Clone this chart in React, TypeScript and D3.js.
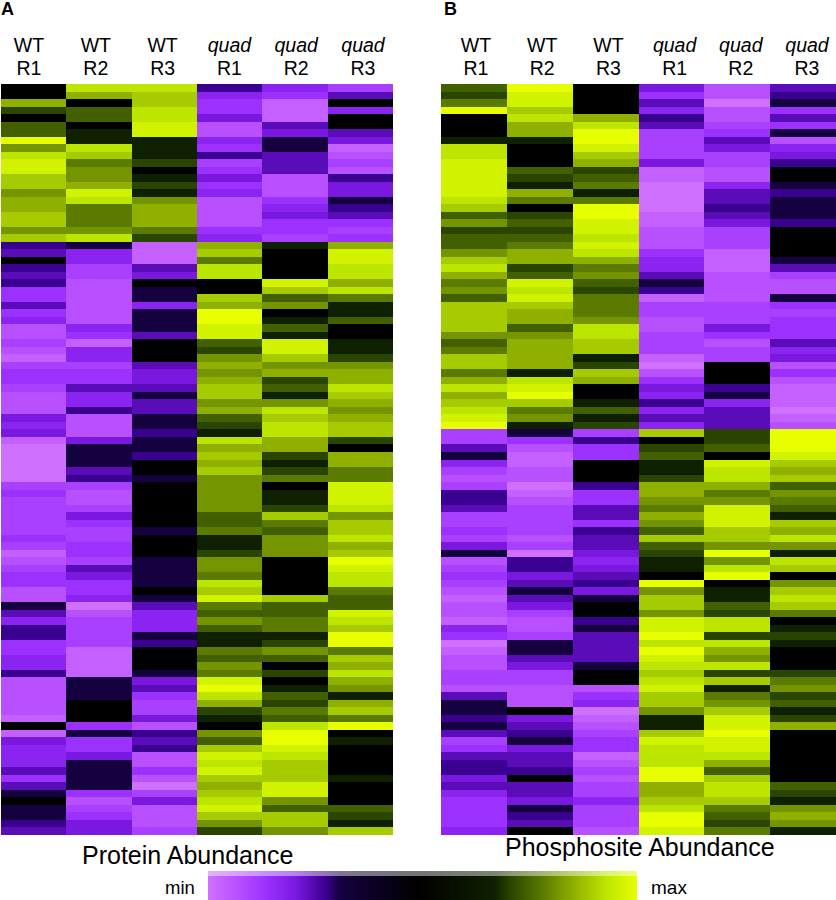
import React from "react";
import * as d3 from "d3";

const proteinWT1 = [
  0,0,6,2,0,3,3,10,5,8, 9,9,7,7,5,6,6,7,7,5, 7,-2,-3,0,-2,-3,-2,-6,-6,-3, -6,-5,-8,-8,-7,-8,-9,-7,-6,-6,
  -7,-8,-8,-8,-4,-5,-4,-9,-10,-10, -10,-10,-10,-7,-6,-7,-7,-7,-7,-7, -6,-7,-9,-8,-7,-6,-6,-8,-8,-1,
  -3,-5,-2,-2,-6,-6,-5,-5,-2,-8, -8,-8,-8,-8,-9,0,-9,-4,-5,-5, -5,-3,-6,-3,-1,0,-1,-1,-2,-3,
];
const proteinWT2 = [
  8,6,0,3,3,0,1,1,8,7, 4,5,5,6,9,8,4,4,4,5, 8,-1,-5,-5,-7,-7,-8,-8,-8,-8, -8,-8,-5,-6,-9,-5,-5,-7,-6,-6,
  -3,-5,-5,-2,-8,-8,-8,-4,-1,-1, -1,-3,-2,-7,-8,-8,-7,-4,-6,-7, -7,-6,-6,-7,-3,-4,-6,-6,-5,-10,
  -8,-7,-7,-7,-7,-9,-9,-9,-9,-1, -1,-1,0,0,0,-6,-1,-6,-6,-4, -1,-1,-1,-1,-6,-8,-7,-6,-4,-4,
];
const proteinWT3 = [
  8,7,7,8,8,9,9,1,1,1, 2,0,1,2,1,5,6,6,6,4, 2,-9,-9,-9,-3,-4,0,-1,-1,-5, -1,-1,-1,-3,0,0,0,-3,-4,-4,
  -3,-1,-3,-3,-1,-1,-2,-1,-1,-2, 0,0,-1,0,0,0,0,0,0,-1, 0,0,0,-1,-1,-1,-1,0,-1,-3,
  -5,-5,-5,-1,-2,0,0,0,-1,-4, -3,-6,-7,-7,-4,-8,-2,-3,-2,-8, -8,-6,-8,-10,-7,-4,-8,-8,-8,-7,
];
const proteinQuad1 = [
  -2,-5,-6,-6,-4,-8,-8,-5,-6,-2, -7,-6,-4,-6,-5,-8,-8,-8,-8,-6, -5,6,7,4,8,8,0,0,7,6, 10,10,9,9,3,2,5,6,5,6,
  7,7,5,6,3,2,1,8,6,7, 6,7,5,5,5,5,5,3,3,4, 1,1,2,5,5,4,8,7,9,4,
  3,5,3,1,1,4,3,5,4,9, 10,8,6,2,1,0,5,3,7,9, 8,9,7,6,7,8,9,7,5,2,
];
const proteinQuad2 = [
  -5,-6,-9,-9,-9,-3,-4,-1,-1,-3, -3,-3,-8,-8,-8,-6,-5,-4,-6,-6, -7,1,0,0,0,0,9,7,3,5, 0,1,3,1,9,9,7,5,6,2,
  3,1,5,8,7,8,8,6,6,2, 1,2,4,0,1,1,2,7,4,3, 5,5,5,0,0,0,0,0,7,3,
  3,4,4,1,2,5,3,0,2,0, 1,3,2,4,3,8,10,10,9,8, 7,7,7,9,9,5,3,7,7,5,
];
const proteinQuad3 = [
  -7,-3,0,-5,0,0,-3,-4,-9,-8, -7,-8,-2,-4,-4,-1,-2,-3,-6,-7, -6,6,9,9,8,8,6,8,4,1, 1,3,0,0,1,1,2,5,6,6,
  8,7,6,5,6,7,7,2,0,6, 6,4,4,9,9,9,8,5,7,7, 8,6,7,10,9,8,8,4,3,3,
  9,8,7,10,10,4,7,6,8,6, 5,1,6,7,4,10,0,1,0,0, 0,0,1,0,0,0,3,2,1,7,
];

const phosphoWT1 = [
  3,2,4,10,0,0,0,1,8,8, 9,9,9,9,9,8,7,3,5,2, 3,3,5,7,8,6,4,5,3,7, 7,7,7,5,3,4,7,7,4,6,
  8,6,7,8,9,10,-7,-7,-3,-1, -5,-7,-8,-7,-2,-2,-3,-7,-7,-6, -7,-4,-1,-8,-7,-6,-7,-8,-9,-8,
  -8,-9,-5,-6,-10,-9,-8,-8,-7,-7, -8,-3,-1,-1,-2,-1,-3,-7,-6,-3, -2,-2,-4,-3,-5,-6,-6,-6,-6,-5,
];
const phosphoWT2 = [
  10,9,9,7,8,6,6,1,0,0, 0,3,2,1,6,4,0,2,3,2, 3,4,6,6,2,3,9,8,9,7, 6,6,3,5,6,6,6,6,1,8,
  9,10,7,4,5,1,-1,-6,-8,-9, -9,-8,-8,-10,-9,-8,-7,-7,-7,-7, -8,-7,-10,-2,-2,-4,-3,-1,-3,-4,
  -7,-8,-8,-7,-1,-1,-3,-4,-7,-7, -8,-8,-8,0,-4,-3,-2,-1,-4,-3, -3,-2,0,-3,-3,-4,-1,-2,-3,0,
];
const phosphoWT3 = [
  0,0,0,0,6,8,10,10,9,7, 6,2,3,4,1,4,10,10,9,9, 8,9,8,6,4,5,3,2,4,4, 4,5,8,8,7,7,1,2,7,6,
  0,0,1,3,1,2,-7,-2,-6,-6, 0,0,0,-2,-6,-6,-3,-3,-6,-2, -3,-3,-4,-5,-4,-3,-2,-4,-1,0,
  0,-2,-1,-3,-3,-3,-3,-1,0,0, -8,-6,-5,-10,-9,-8,-7,-6,-6,-9, -8,-7,-8,-7,-7,-5,-7,-7,-7,-8,
];
const phosphoQuad1 = [
  -4,-6,-3,-5,-2,-3,-7,-7,-7,-7, -4,-9,-9,-10,-10,-10,-10,-9,-9,-8, -8,-8,-6,-5,-5,-3,-1,-2,-9,-7,
  -7,-8,-8,-7,-7,-7,-9,-10,-8,-6, -4,-5,-2,-5,-3,-5,7,0,2,3, 1,1,2,6,6,5,4,6,5,3,
  7,3,2,1,1,0,10,5,7,7, 5,9,9,10,8,10,9,8,7,8, 9,7,7,5,1,1,7,9,8,8, 8,10,10,6,6,7,8,10,10,9,
];
const phosphoQuad2 = [
  -8,-8,-10,-8,-8,-7,-6,-3,-4,-7, -7,-8,-8,-5,-3,-3,-2,-3,-4,-7, -7,-7,-9,-9,-9,-8,-8,-8,-8,-7,
  -7,-7,-4,-6,-8,-7,-7,0,0,0, -2,-1,-5,-3,-3,-3,2,2,3,0, 9,8,8,6,4,5,9,9,9,7,
  7,5,10,5,8,10,0,1,1,3, 2,8,8,2,8,6,5,8,2,7, 1,4,5,7,9,9,10,9,9,8, 6,3,7,8,8,7,4,3,2,4,
];
const phosphoQuad3 = [
  -3,-2,-1,-6,-3,-6,-1,-8,-5,-4, -2,0,0,-1,-2,-1,-1,-1,-2,0, 0,0,0,-1,-3,-7,-8,-8,-1,-6,
  -7,-6,-6,-6,-3,-5,-4,-8,-6,-8, -9,-9,-9,-10,-9,-8,10,10,10,9, 7,6,7,3,5,4,3,1,7,6,
  8,5,1,8,7,0,5,7,8,7, 4,0,1,2,1,0,0,0,2,4, 5,2,3,1,2,6,0,0,0,0, 0,0,0,3,2,1,5,6,5,1,
];

const strains = ["WT", "WT", "WT", "quad", "quad", "quad"];
const replicates = ["R1", "R2", "R3", "R1", "R2", "R3"];
const sampleIds = d3.range(strains.length);
const proteinColumns = [proteinWT1, proteinWT2, proteinWT3, proteinQuad1, proteinQuad2, proteinQuad3];
const phosphoColumns = [phosphoWT1, phosphoWT2, phosphoWT3, phosphoQuad1, phosphoQuad2, phosphoQuad3];
const rows = d3.range(proteinWT1.length);

const colorStops = [-10, -8, -6, -4, -2, -1, 0, 1, 2, 4, 6, 8, 10];
const colorRange = [
  "#d070ff", "#b850ff", "#9c30ff", "#7a18e0", "#3a0090", "#150040", "#000000",
  "#0f2000", "#2a4500", "#5a7a00", "#90b000", "#bce600", "#e8ff00",
];
const color = d3.scaleLinear<string>().domain(colorStops).range(colorRange);

const y = d3.scaleBand<number>().domain(rows).range([84, 835]);

const Heatmap = ({ columns, x0, x1, labelX0, labelX1, letter, letterX, title, titleX, titleY }: any) => {
  const x = d3.scaleBand<number>().domain(sampleIds).range([x0, x1]);
  const labelX = d3.scalePoint<number>().domain(sampleIds).range([labelX0, labelX1]);
  return (
    <g>
      <text x={letterX} y={15} fontSize={18} fontWeight="bold">{letter}</text>
      {sampleIds.map((s) => (
        <g key={s} textAnchor="middle" fontSize={19.5}>
          <text x={labelX(s)} y={52} fontStyle={strains[s] === "quad" ? "italic" : "normal"}>{strains[s]}</text>
          <text x={labelX(s)} y={75}>{replicates[s]}</text>
        </g>
      ))}
      {sampleIds.map((s) =>
        rows.map((r) => (
          <rect
            key={`${s}-${r}`}
            x={x(s)}
            y={y(r)}
            width={x.bandwidth()}
            height={y.bandwidth()}
            fill={color(columns[s][r])}
            shapeRendering="crispEdges"
          />
        ))
      )}
      <text x={titleX} y={titleY} fontSize={25}>{title}</text>
    </g>
  );
};

export default function App() {
  // the legend's black part sits a bit right of centre
  const legendX = d3.scaleLinear().domain([-10, -1, 1, 10]).range([208, 340, 495, 637]);
  const legendValues = d3.range(-10, 10.01, 0.1);
  return (
    <svg
      width={836}
      height={900}
      fontFamily="'Liberation Sans', Arial, sans-serif"
      style={{ position: "absolute", left: 0, top: 0 }}
    >
      <Heatmap columns={proteinColumns} x0={1} x1={393} labelX0={29} labelX1={363} letter="A" letterX={1}
        title="Protein Abundance" titleX={82} titleY={864} />
      <Heatmap columns={phosphoColumns} x0={441} x1={836} labelX0={476} labelX1={807} letter="B" letterX={444}
        title="Phosphosite Abundance" titleX={505} titleY={856} />
      <defs>
        <linearGradient id="legendGrad" gradientUnits="userSpaceOnUse" x1={208} x2={637} y1={0} y2={0}>
          {legendValues.map((v) => (
            <stop key={v} offset={(legendX(v) - 208) / (637 - 208)} stopColor={color(v)} />
          ))}
        </linearGradient>
      </defs>
      <rect x={208} y={871} width={429} height={29} fill="url(#legendGrad)" />
      <rect x={208} y={871} width={429} height={5} fill="#fff" fillOpacity={0.45} />
      <text x={165} y={894} fontSize={18.5}>min</text>
      <text x={651} y={894} fontSize={19}>max</text>
    </svg>
  );
}
